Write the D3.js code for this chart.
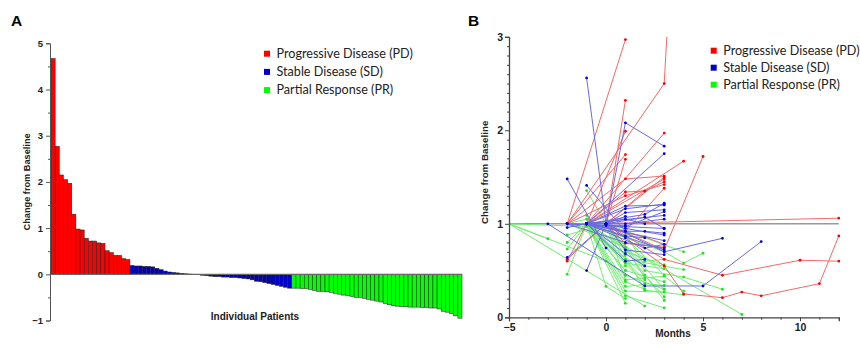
<!DOCTYPE html>
<html>
<head>
<meta charset="utf-8">
<script src="https://cdn.jsdelivr.net/npm/d3@7"></script>
<style>
  body { margin: 0; background: #fff; }
  svg { display: block; }
</style>
</head>
<body>
<div id="chart"></div>
<script>
// ---- Panel A: change from baseline per patient (waterfall order) ----
const pdBars = [4.67, 2.77, 2.15, 2.05, 1.97, 1.30, 0.98, 0.96, 0.78, 0.72, 0.72, 0.68, 0.67, 0.51, 0.47, 0.41, 0.41, 0.34, 0.32];
const sdBars = [0.19, 0.18, 0.18, 0.17, 0.17, 0.16, 0.13, 0.10, 0.07, 0.05, 0.04, 0.03, 0.02, 0.01, 0.005, -0.005, -0.01,
  -0.02, -0.03, -0.04, -0.05, -0.05, -0.06, -0.06, -0.07, -0.07, -0.08, -0.09, -0.10, -0.12, -0.15, -0.16, -0.18,
  -0.20, -0.22, -0.24, -0.26, -0.28, -0.30];
const prBars = [-0.30, -0.30, -0.31, -0.31, -0.33, -0.35, -0.37, -0.37, -0.38, -0.39, -0.41, -0.43, -0.45, -0.46,
  -0.48, -0.50, -0.50, -0.52, -0.54, -0.56, -0.58, -0.60, -0.63, -0.66, -0.68, -0.69, -0.70, -0.70, -0.71, -0.71,
  -0.71, -0.72, -0.72, -0.73, -0.73, -0.75, -0.80, -0.82, -0.85, -0.90, -0.95];

const groupNames = ['Progressive Disease (PD)', 'Stable Disease (SD)', 'Partial Response (PR)'];
const yTicksA = [-1, 0, 1, 2, 3, 4, 5];

// ---- Panel B: [month, change] per patient ----
const pdPaths = [
  [[-2, 1], [1, 2.97]],
  [[-2, 1], [3, 2.5], [3.3, 3.6]],
  [[0, 1], [1, 2.32]],
  [[-1, 1], [1, 1.99]],
  [[-1, 1], [3, 1.97]],
  [[-2, 1], [1, 1.74]],
  [[0, 1], [1, 1.69]],
  [[-1, 1], [4, 1.67]],
  [[0, 1], [3, 0.72], [5, 1.72]],
  [[-1, 1], [12, 1.06]],
  [[0, 1], [3, 0.62], [6, 0.45], [10, 0.61], [12, 0.6]],
  [[0, 1], [3, 0.55], [4, 0.25], [6, 0.21], [7, 0.27], [8, 0.23], [11, 0.36], [12, 0.87]],
  [[-2, 1], [1, 1.48], [3, 1.51]],
  [[-1, 1], [1, 1.34], [2, 1.35], [3, 1.45]],
  [[-2, 1], [1, 1.3], [3, 1.42]],
  [[-2, 0.6], [-1, 1], [3, 1.48]],
  [[-2, 0.62], [0, 1], [3, 1.5]],
  [[0, 1], [1, 0.79], [3, 0.75]],
  [[-1, 1], [2, 0.86], [3, 0.78]],
  [[0, 1], [2, 1.35]],
  [[-1, 1], [1, 0.92], [3, 1.38]]
];
const sdPaths = [
  [[-1, 2.56], [0, 1]],
  [[0, 1], [1, 2.08], [3, 1.83]],
  [[-1, 1], [3, 1.75]],
  [[-2, 1.48], [0, 0.74]],
  [[-3, 1], [2, 0.335], [5, 0.335], [8, 0.81]],
  [[0, 1], [3, 0.7], [6, 0.845]],
  [[-1, 1.41], [1, 0.92]],
  [[-1, 0.5], [0, 1], [1, 0.85]],
  [[-2, 0.96], [-1, 1], [1, 1.19], [3, 1.2]],
  [[-2, 0.64], [0, 1], [1, 1.08]],
  [[-1, 1], [1, 1.16], [3, 1.21]],
  [[-1, 1], [3, 1.09]],
  [[-1, 1], [1, 1.0], [3, 1.05]],
  [[0, 1], [2, 1.07], [3, 0.95]],
  [[-1, 1], [1, 0.92], [2, 0.92], [3, 0.9]],
  [[-1, 1], [2, 0.74], [3, 0.78]],
  [[-2, 1], [1, 0.8], [3, 0.74]],
  [[-1, 1], [1, 0.6], [2, 0.62]],
  [[0, 1], [1, 0.95], [3, 0.88]],
  [[-1, 1], [1, 1.05], [2, 1.0]],
  [[-2, 1], [1, 0.97], [3, 1.13]],
  [[-1, 1], [3, 0.82]],
  [[-1, 1], [1, 0.87], [2, 0.85]],
  [[0, 1], [1, 0.72], [3, 0.67]],
  [[-1, 1], [2, 1.1], [3, 1.22]],
  [[-1, 1], [1, 0.68], [2, 0.55]],
  [[-1, 1], [0, 0.98], [1, 0.98]],
  [[-2, 1], [3, 0.95]],
  [[-1, 1], [3, 0.72]],
  [[0, 1], [1, 1.12], [3, 1.15]]
];
const prPaths = [
  [[-5, 1], [-3, 0.84]],
  [[-5, 1], [-1, 0.97]],
  [[-5, 1], [2, 0.12]],
  [[-5, 1], [0, 0.6], [1, 0.45]],
  [[-2, 0.46], [-1, 1]],
  [[-2, 0.8], [-1, 1], [1, 0.5]],
  [[-2, 0.73], [-1, 1], [2, 0.4]],
  [[-2, 0.88], [0, 1], [3, 0.3]],
  [[-1, 1.355], [0, 1], [1, 0.55]],
  [[-1, 1.09], [1, 0.45], [3, 0.3]],
  [[-1, 1], [1, 0.15]],
  [[-1, 1], [1, 0.23], [3, 0.1]],
  [[-1, 1], [7, 0.03]],
  [[0, 1], [3, 0.18]],
  [[0, 1], [2, 0.5], [4, 0.43], [6, 0.3]],
  [[-1, 1], [3, 0.7], [4, 0.58], [5, 0.685]],
  [[0, 1], [4, 0.7]],
  [[-1, 1], [1, 0.62], [4, 0.51]],
  [[0, 1], [1, 0.4], [3, 0.44], [4, 0.28]],
  [[0, 1], [2, 0.29], [4, 0.24]],
  [[-1, 1], [1, 0.33], [2, 0.35]],
  [[-1, 1], [0, 0.33], [1, 0.2]],
  [[-1, 1], [1, 0.58], [3, 0.52]],
  [[-1, 1], [2, 0.6], [3, 0.62]],
  [[0, 1], [1, 0.7], [3, 0.56]],
  [[-1, 1], [1, 0.85], [3, 0.45]],
  [[-2, 1], [1, 0.75], [2, 0.42]],
  [[-1, 1], [1, 0.5], [3, 0.38]],
  [[-1, 1], [2, 0.45], [3, 0.22]],
  [[-1, 1], [1, 0.38], [2, 0.3]],
  [[0, 1], [1, 0.9], [2, 0.55]],
  [[-2, 1], [-1, 1.05], [1, 0.66]],
  [[-1, 1], [1, 0.28], [3, 0.27]],
  [[-1, 1], [2, 0.36], [3, 0.34]]
];
const yTicksB = [0, 1, 2, 3];
const xTicksB = [-5, 0, 5, 10];

const W = 860, H = 347;
const barFill = ['#ff0000', '#0000c4', '#00ff00'];
const legendFill = ['#ff0000', '#0000cc', '#00ff00'];
const lineStroke = ['#f26a6a', '#6a6ae4', '#70f070'];
const dotFill = ['#ff0000', '#0000e0', '#22e022'];
const boldFont = '"Liberation Sans", Arial, sans-serif';
const legendFont = 'Lato, "Open Sans", sans-serif';

const svg = d3.select('#chart').append('svg')
  .attr('width', W).attr('height', H)
  .attr('viewBox', [0, 0, W, H]);
svg.append('rect').attr('width', W).attr('height', H).attr('fill', '#fff');

// ================= Panel A =================
const bars = [].concat(
  pdBars.map(v => ({ v, g: 0 })),
  sdBars.map(v => ({ v, g: 1 })),
  prBars.map(v => ({ v, g: 2 }))
);
const xA = d3.scaleBand().domain(d3.range(bars.length)).range([51, 462]).padding(0);
const yA = d3.scaleLinear().domain([-1, 5]).range([320.5, 43.3]);

const gA = svg.append('g');
gA.selectAll('rect.bar').data(bars).join('rect')
  .attr('class', 'bar')
  .attr('x', (d, i) => xA(i))
  .attr('width', xA.bandwidth())
  .attr('y', d => yA(Math.max(0, d.v)))
  .attr('height', d => Math.abs(yA(d.v) - yA(0)))
  .attr('fill', d => barFill[d.g])
  .attr('stroke', '#222')
  .attr('stroke-width', 0.5);

// zero line
gA.append('line')
  .attr('x1', 50).attr('x2', 462)
  .attr('y1', yA(0)).attr('y2', yA(0))
  .attr('stroke', '#666').attr('stroke-width', 1.2);

// y axis: major + minor ticks
const axA = gA.append('g').attr('transform', 'translate(50,0)')
  .call(d3.axisLeft(yA).tickValues(yTicksA).tickFormat(d3.format('d')).tickSize(4).tickPadding(3));
gA.append('g').attr('transform', 'translate(50,0)')
  .call(d3.axisLeft(yA).tickValues(yTicksA.slice(0, -1).map(v => v + 0.5)).tickSize(2).tickFormat(''))
  .call(g => g.select('.domain').remove());
axA.selectAll('text').attr('font-family', boldFont).attr('font-weight', 'bold').attr('font-size', 9.5).attr('fill', '#222');
gA.selectAll('.domain, .tick line').attr('stroke', '#555');

gA.append('text')
  .attr('transform', `translate(30,${yA(2)}) rotate(-90)`)
  .attr('text-anchor', 'middle')
  .attr('font-family', boldFont).attr('font-weight', 'bold').attr('font-size', 9.2).attr('fill', '#222')
  .text('Change from Baseline');
gA.append('text')
  .attr('x', 255).attr('y', 320)
  .attr('text-anchor', 'middle')
  .attr('font-family', boldFont).attr('font-weight', 'bold').attr('font-size', 10).attr('fill', '#222')
  .text('Individual Patients');
svg.append('text').attr('x', 11).attr('y', 26)
  .attr('font-family', boldFont).attr('font-weight', 'bold').attr('font-size', 15.5)
  .text('A');

function legend(x, y, step) {
  const lg = svg.append('g').attr('transform', `translate(${x},${y})`);
  groupNames.forEach((name, i) => {
    lg.append('rect').attr('x', 0).attr('y', i * step - 3).attr('width', 6).attr('height', 6).attr('fill', legendFill[i]);
    lg.append('text').attr('x', 12.5).attr('y', i * step + 4.4)
      .attr('font-family', legendFont).attr('font-size', 12.6).attr('fill', '#222')
      .text(name);
  });
}
legend(264, 53.7, 18.2);

// ================= Panel B =================
const xB = d3.scaleLinear().domain([-5, 12]).range([509, 838.8]);
const yB = d3.scaleLinear().domain([0, 3]).range([317.3, 36.8]);
const gB = svg.append('g');

svg.append('defs').append('clipPath').attr('id', 'clipB')
  .append('rect').attr('x', 509).attr('y', yB(3)).attr('width', 331).attr('height', yB(0) - yB(3));

// reference line at 1
gB.append('line')
  .attr('x1', xB(-5)).attr('x2', xB(12))
  .attr('y1', yB(1)).attr('y2', yB(1))
  .attr('stroke', '#999').attr('stroke-width', 1.5);

const line = d3.line().x(d => xB(d[0])).y(d => yB(d[1]));
const plot = gB.append('g').attr('clip-path', 'url(#clipB)');
[[prPaths, 2], [pdPaths, 0], [sdPaths, 1]].forEach(([paths, g]) => {
  const grp = plot.append('g');
  grp.selectAll('path').data(paths).join('path')
    .attr('d', line)
    .attr('fill', 'none')
    .attr('stroke', lineStroke[g])
    .attr('stroke-width', 1);
  grp.selectAll('circle').data(paths.flat()).join('circle')
    .attr('cx', d => xB(d[0])).attr('cy', d => yB(d[1]))
    .attr('r', 1.4)
    .attr('fill', dotFill[g]);
});

const axBy = gB.append('g').attr('transform', 'translate(509,0)')
  .call(d3.axisLeft(yB).tickValues(yTicksB).tickFormat(d3.format('d')).tickSize(4).tickPadding(2));
gB.append('g').attr('transform', 'translate(509,0)')
  .call(d3.axisLeft(yB).tickValues(d3.range(1, 30).filter(i => i % 10).map(i => i / 10)).tickSize(2).tickFormat(''))
  .call(g => g.select('.domain').remove());
const axBx = gB.append('g').attr('transform', `translate(0,${yB(0)})`)
  .call(d3.axisBottom(xB).tickValues(xTicksB).tickFormat(d3.format('d')).tickSize(4).tickPadding(2));
gB.append('g').attr('transform', `translate(0,${yB(0)})`)
  .call(d3.axisBottom(xB).tickValues(d3.range(-4, 13).filter(m => m % 5)).tickSize(2.5).tickFormat(''))
  .call(g => g.select('.domain').remove());
gB.selectAll('.domain, .tick line').attr('stroke', '#444');
gB.selectAll('.domain').attr('stroke-width', 1.3);
[axBy, axBx].forEach(a => a.selectAll('text')
  .attr('font-family', boldFont).attr('font-weight', 'bold').attr('font-size', 10.5).attr('fill', '#222'));

gB.append('text')
  .attr('transform', `translate(488,${yB(1.55)}) rotate(-90)`)
  .attr('text-anchor', 'middle')
  .attr('font-family', boldFont).attr('font-weight', 'bold').attr('font-size', 9.8).attr('fill', '#222')
  .text('Change from Baseline');
gB.append('text')
  .attr('x', 673).attr('y', 337)
  .attr('text-anchor', 'middle')
  .attr('font-family', boldFont).attr('font-weight', 'bold').attr('font-size', 10).attr('fill', '#222')
  .text('Months');
svg.append('text').attr('x', 468).attr('y', 26)
  .attr('font-family', boldFont).attr('font-weight', 'bold').attr('font-size', 15.5)
  .text('B');

legend(710.7, 50.7, 17);
</script>
</body>
</html>
